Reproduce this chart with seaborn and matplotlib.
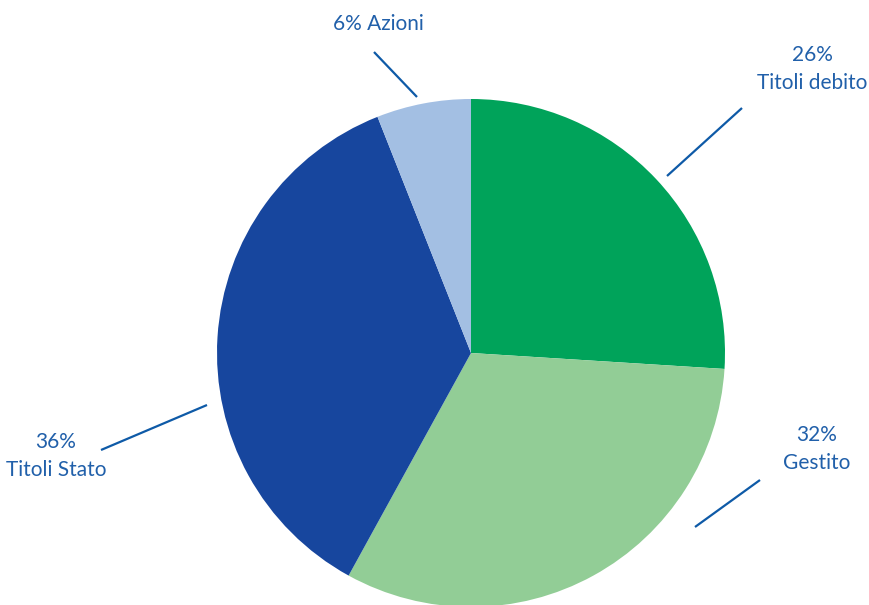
import matplotlib
matplotlib.use("Agg")
import matplotlib.pyplot as plt
import seaborn as sns

# data
labels = ["Titoli debito", "Gestito", "Titoli Stato", "Azioni"]
shares = [26, 32, 36, 6]
colors = ["#00A35A", "#92CD96", "#17469E", "#A3BFE3"]

# label layout (pixel coords, y measured from top)
text_pos = [(812, 69), (817, 449), (56, 456), (378, 24)]
line_pos = [((667, 176), (742, 108)), ((695, 527), (760, 480)),
            ((207, 405), (101, 450)), ((417, 97), (374, 52))]

sns.set_theme(style="white")
plt.rcParams["font.family"] = ["Lato", "DejaVu Sans"]

W, H = 869, 605
fig = plt.figure(figsize=(W / 100, H / 100), dpi=100)
ax = fig.add_axes([0, 0, 1, 1])

ax.pie(shares, colors=colors, startangle=90, counterclock=False,
       radius=254, center=(471, H - 353), frame=True,
       wedgeprops=dict(linewidth=0))
ax.set_xlim(0, W)
ax.set_ylim(0, H)
ax.set_aspect("equal")
ax.axis("off")

txt_color = "#2160AA"
for lab, val, (tx, ty), ((x0, y0), (x1, y1)) in zip(labels, shares, text_pos, line_pos):
    if lab == "Azioni":
        s = f"{val}% {lab}"
    else:
        s = f"{val}%\n{lab}"
    ax.text(tx, H - ty, s, ha="center", va="center", color=txt_color,
            fontsize=15, fontweight="normal", linespacing=1.45)
    ax.plot([x0, x1], [H - y0, H - y1], color="#0E5AA7", lw=1.6,
            solid_capstyle="butt")

fig.savefig("out.png", dpi=100)
plt.close(fig)
